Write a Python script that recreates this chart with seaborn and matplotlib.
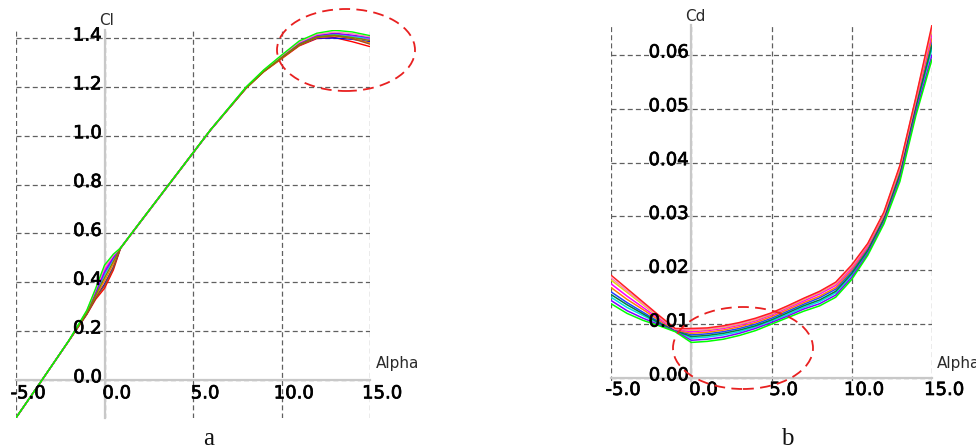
import numpy as np
import pandas as pd
import matplotlib
matplotlib.use("Agg")
import matplotlib.pyplot as plt
import matplotlib.transforms as mtransforms
import matplotlib.patheffects as pe
from matplotlib.patches import Ellipse
import seaborn as sns

# ---------------- data ----------------
CL_ALPHA = [-5, -4, -3, -2, -1, -0.5, 0, 0.5, 0.9, 2, 4, 6, 8, 9, 10, 11, 12, 13, 14, 15]
cl_red     = [-0.156, -0.051, 0.055, 0.161, 0.268, 0.330, 0.375, 0.450, 0.538, 0.643, 0.833, 1.023, 1.196, 1.262, 1.315, 1.368, 1.398, 1.402, 1.385, 1.365]
cl_blue    = [-0.155, -0.050, 0.056, 0.162, 0.270, 0.338, 0.392, 0.462, 0.539, 0.644, 0.834, 1.024, 1.195, 1.265, 1.320, 1.372, 1.400, 1.400, 1.395, 1.385]
cl_magenta = [-0.155, -0.050, 0.056, 0.162, 0.280, 0.362, 0.450, 0.505, 0.540, 0.645, 0.835, 1.025, 1.197, 1.266, 1.325, 1.380, 1.412, 1.418, 1.408, 1.395]
cl_cyan    = [-0.155, -0.050, 0.056, 0.162, 0.276, 0.352, 0.430, 0.495, 0.539, 0.645, 0.835, 1.025, 1.196, 1.265, 1.322, 1.376, 1.408, 1.415, 1.405, 1.400]
cl_orange  = [-0.155, -0.050, 0.056, 0.162, 0.272, 0.342, 0.405, 0.475, 0.539, 0.645, 0.835, 1.025, 1.194, 1.263, 1.318, 1.371, 1.402, 1.408, 1.398, 1.380]
cl_purple  = [-0.155, -0.050, 0.056, 0.162, 0.279, 0.358, 0.440, 0.500, 0.540, 0.645, 0.835, 1.025, 1.198, 1.267, 1.324, 1.378, 1.410, 1.420, 1.412, 1.402]
cl_brown   = [-0.155, -0.050, 0.056, 0.162, 0.270, 0.335, 0.385, 0.458, 0.539, 0.645, 0.835, 1.025, 1.195, 1.263, 1.318, 1.370, 1.403, 1.410, 1.398, 1.375]
cl_pink    = [-0.155, -0.050, 0.056, 0.162, 0.283, 0.370, 0.460, 0.510, 0.540, 0.645, 0.835, 1.025, 1.199, 1.268, 1.327, 1.383, 1.415, 1.425, 1.418, 1.405]
cl_olive   = [-0.155, -0.050, 0.056, 0.162, 0.274, 0.347, 0.418, 0.485, 0.539, 0.645, 0.835, 1.025, 1.196, 1.264, 1.320, 1.374, 1.405, 1.412, 1.402, 1.390]
cl_green   = [-0.155, -0.050, 0.056, 0.163, 0.285, 0.375, 0.470, 0.515, 0.540, 0.645, 0.835, 1.025, 1.200, 1.270, 1.330, 1.388, 1.420, 1.432, 1.425, 1.410]
CL_SERIES = [cl_red, cl_blue, cl_magenta, cl_cyan, cl_orange, cl_purple, cl_brown, cl_pink, cl_olive, cl_green]

CD_ALPHA = [-5, -4, -3, -2, -1, 0, 1, 2, 3, 4, 5, 6, 7, 8, 9, 10, 11, 12, 13, 14, 15]
cd_01 = [0.0191, 0.0166, 0.0141, 0.0116, 0.0092, 0.0092, 0.0093, 0.0097, 0.0103, 0.0111, 0.0121, 0.0134, 0.0148, 0.0161, 0.0178, 0.0210, 0.0250, 0.0308, 0.0395, 0.0522, 0.0656]
cd_02 = [0.0138, 0.0120, 0.0107, 0.0097, 0.0086, 0.0066, 0.0068, 0.0072, 0.0079, 0.0088, 0.0100, 0.0112, 0.0124, 0.0134, 0.0150, 0.0183, 0.0228, 0.0286, 0.0365, 0.0488, 0.0592]
cd_03 = [0.0160, 0.0140, 0.0122, 0.0104, 0.0089, 0.0080, 0.0082, 0.0086, 0.0092, 0.0100, 0.0111, 0.0124, 0.0137, 0.0149, 0.0165, 0.0198, 0.0240, 0.0298, 0.0382, 0.0508, 0.0625]
cd_04 = [0.0175, 0.0152, 0.0131, 0.0110, 0.0090, 0.0086, 0.0088, 0.0092, 0.0098, 0.0106, 0.0117, 0.0130, 0.0143, 0.0156, 0.0172, 0.0204, 0.0245, 0.0303, 0.0390, 0.0515, 0.0640]
cd_05 = [0.0150, 0.0131, 0.0116, 0.0101, 0.0088, 0.0074, 0.0076, 0.0080, 0.0086, 0.0095, 0.0106, 0.0118, 0.0131, 0.0142, 0.0158, 0.0191, 0.0234, 0.0292, 0.0375, 0.0500, 0.0612]
cd_06 = [0.0182, 0.0159, 0.0136, 0.0113, 0.0091, 0.0089, 0.0090, 0.0094, 0.0100, 0.0108, 0.0119, 0.0132, 0.0146, 0.0159, 0.0175, 0.0207, 0.0248, 0.0305, 0.0392, 0.0518, 0.0648]
cd_07 = [0.0168, 0.0146, 0.0127, 0.0107, 0.0089, 0.0083, 0.0085, 0.0089, 0.0095, 0.0103, 0.0114, 0.0127, 0.0140, 0.0152, 0.0168, 0.0201, 0.0243, 0.0300, 0.0386, 0.0512, 0.0632]
cd_08 = [0.0144, 0.0125, 0.0111, 0.0099, 0.0087, 0.0070, 0.0072, 0.0076, 0.0083, 0.0092, 0.0103, 0.0115, 0.0128, 0.0138, 0.0154, 0.0187, 0.0231, 0.0289, 0.0370, 0.0494, 0.0600]
cd_09 = [0.0155, 0.0136, 0.0119, 0.0102, 0.0088, 0.0077, 0.0079, 0.0083, 0.0089, 0.0097, 0.0108, 0.0121, 0.0134, 0.0145, 0.0161, 0.0194, 0.0237, 0.0295, 0.0378, 0.0504, 0.0618]
cd_10 = [0.0186, 0.0162, 0.0138, 0.0114, 0.0091, 0.0090, 0.0091, 0.0095, 0.0101, 0.0109, 0.0120, 0.0133, 0.0147, 0.0160, 0.0176, 0.0208, 0.0249, 0.0306, 0.0393, 0.0520, 0.0652]
CD_SERIES = [cd_03, cd_05, cd_07, cd_09, cd_04, cd_06, cd_10, cd_08, cd_01, cd_02]

X_TICKS = [-5, 0, 5, 10, 15]
X_LABELS = ["-5.0", "0.0", "5.0", "10.0", "15.0"]
CL_TICKS = [0.0, 0.2, 0.4, 0.6, 0.8, 1.0, 1.2, 1.4]
CL_LABELS = ["0.0", "0.2", "0.4", "0.6", "0.8", "1.0", "1.2", "1.4"]
CD_TICKS = [0.00, 0.01, 0.02, 0.03, 0.04, 0.05, 0.06]
CD_LABELS = ["0.00", "0.01", "0.02", "0.03", "0.04", "0.05", "0.06"]

CL_COLORS = ["#ff0000", "#0000ff", "#ff00ff", "#00e0e0", "#ff8000",
             "#8000ff", "#a05020", "#ff80c0", "#808000", "#00ff00"]
CD_COLORS = ["#2040ff", "#00e0e0", "#ff8000", "#008040", "#ff00ff",
             "#e0e000", "#ff80c0", "#8000ff", "#ff2020", "#00ff00"]

def long_df(alpha, series):
    rows = []
    for i, s in enumerate(series):
        for a, v in zip(alpha, s):
            rows.append({"alpha": a, "value": v, "curve": f"c{i:02d}"})
    return pd.DataFrame(rows)

df_cl = long_df(CL_ALPHA, CL_SERIES)
df_cd = long_df(CD_ALPHA, CD_SERIES)

# ---------------- figure ----------------
sns.set_style("white")
plt.rcParams["font.family"] = ["DejaVu Sans"]

W, H = 976, 447
fig = plt.figure(figsize=(W / 100, H / 100), dpi=100)
fig.patch.set_facecolor("white")

def px_axes(l, t, r, b):
    return fig.add_axes([l / W, 1 - b / H, (r - l) / W, (b - t) / H])

ax1 = px_axes(16, 30, 370, 418)
ax2 = px_axes(611, 25, 932, 381)

sns.lineplot(data=df_cl, x="alpha", y="value", hue="curve", palette=CL_COLORS,
             legend=False, ax=ax1, linewidth=1.0, estimator=None, sort=True)
sns.lineplot(data=df_cd, x="alpha", y="value", hue="curve", palette=CD_COLORS,
             legend=False, ax=ax2, linewidth=1.1, estimator=None, sort=True)

ax1.set_xlim(-5, 15)
ax1.set_ylim(-0.156, 1.433)
ax2.set_xlim(-5, 15)
ax2.set_ylim(-0.00056, 0.06557)

TICK_COLOR = "#000000"
THICK = [pe.withStroke(linewidth=0.5, foreground=TICK_COLOR)]

def style(ax, yticks, ylabels, xlab_dy):
    ax.set_xticks(X_TICKS)
    ax.set_yticks(yticks)
    ax.tick_params(length=0, labelbottom=False, labelleft=False)
    ax.grid(True, linestyle=(0, (4, 2.5)), color="#606060", linewidth=0.9)
    ax.set_axisbelow(True)
    ax.set_xlabel("")
    ax.set_ylabel("")
    for s in ["top", "right"]:
        ax.spines[s].set_visible(False)
    for s in ["left", "bottom"]:
        ax.spines[s].set_position(("data", 0))
        ax.spines[s].set_color("#c8c8c8")
        ax.spines[s].set_linewidth(1.6)
        ax.spines[s].set_zorder(1.5)
    for v, t in zip(X_TICKS, X_LABELS):
        tr = ax.transData + mtransforms.ScaledTranslation(12 / 100, -xlab_dy / 100, fig.dpi_scale_trans)
        ax.text(v, 0, t, transform=tr, ha="center", va="center", fontsize=13,
                color=TICK_COLOR, clip_on=False, zorder=5, path_effects=THICK)
    for v, t in zip(yticks, ylabels):
        tr = ax.transData + mtransforms.ScaledTranslation(-3 / 100, 2.5 / 100, fig.dpi_scale_trans)
        ax.text(0, v, t, transform=tr, ha="right", va="center", fontsize=13,
                color=TICK_COLOR, clip_on=False, zorder=5, path_effects=THICK)

style(ax1, CL_TICKS, CL_LABELS, 13.5)
style(ax2, CD_TICKS, CD_LABELS, 12)

AX_LBL = "#2a2a2a"
fig.text(99 / W, 1 - 25 / H, "Cl", fontsize=11, color=AX_LBL, va="baseline", ha="left")
fig.text(376 / W, 1 - 368 / H, "Alpha", fontsize=11, color=AX_LBL, va="baseline", ha="left")
fig.text(685 / W, 1 - 21 / H, "Cd", fontsize=11, color=AX_LBL, va="baseline", ha="left")
fig.text(937 / W, 1 - 368 / H, "Alpha", fontsize=11, color=AX_LBL, va="baseline", ha="left")

fig.text(209 / W, 1 - 445 / H, "a", fontsize=18, family="Liberation Serif",
         ha="center", va="baseline", color="#111111")
fig.text(787 / W, 1 - 445 / H, "b", fontsize=18, family="Liberation Serif",
         ha="center", va="baseline", color="#111111")

def ellipse(cx, cy, w, h):
    e = Ellipse((cx / W, 1 - cy / H), w / W, h / H, transform=fig.transFigure,
                fill=False, edgecolor="#e82020", linewidth=1.3,
                linestyle=(0, (6, 3.5)), zorder=10)
    fig.add_artist(e)

ellipse(346, 50, 138, 82)
ellipse(743, 348, 140, 82)

fig.savefig("out.png", dpi=100, facecolor="white")
